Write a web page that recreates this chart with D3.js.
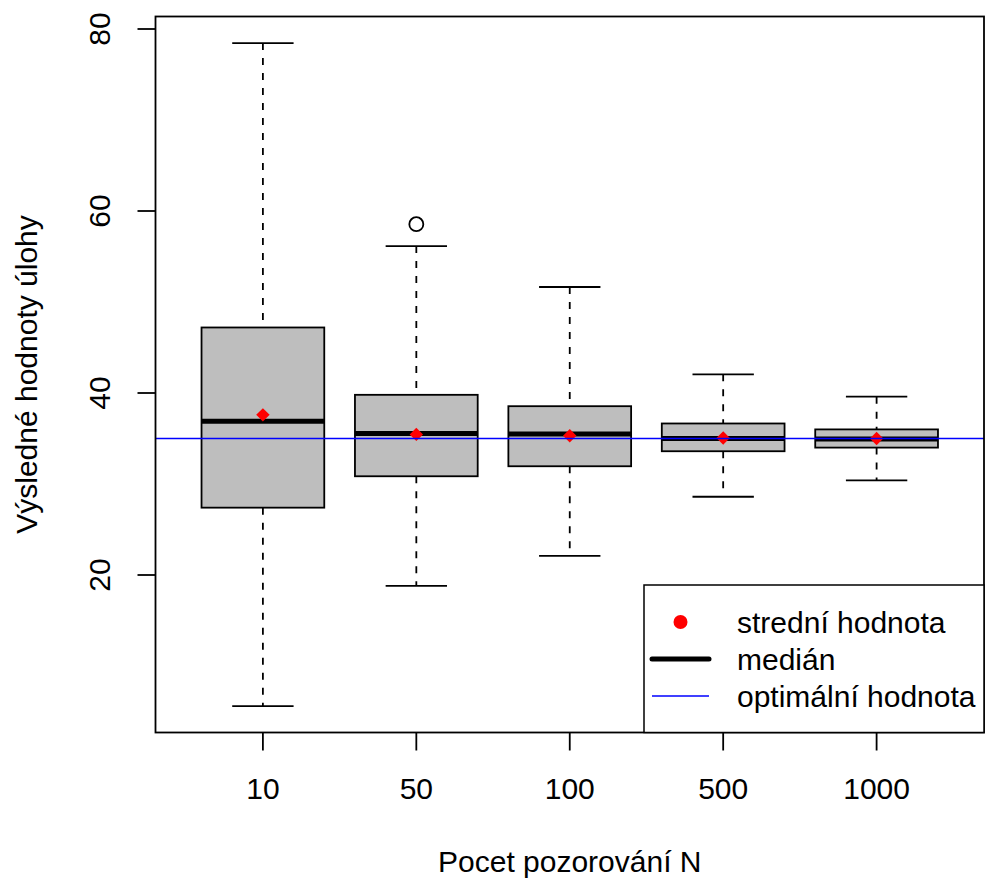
<!DOCTYPE html>
<html>
<head>
<meta charset="utf-8">
<script src="https://cdn.jsdelivr.net/npm/d3@7"></script>
<style>
  body { margin: 0; background: #fff; }
  text { font-family: "Liberation Sans", Arial, Helvetica, sans-serif; fill: #000; }
</style>
</head>
<body>
<div id="chart"></div>
<script>
// data
var categories = ['10', '50', '100', '500', '1000'];
var whiskerLow = [5.6, 18.8, 22.1, 28.6, 30.4];
var q1 = [27.4, 30.85, 31.95, 33.6, 34.0];
var medians = [36.9, 35.55, 35.5, 35.0, 34.95];
var q3 = [47.2, 39.8, 38.55, 36.65, 36.0];
var whiskerHigh = [78.45, 56.15, 51.65, 42.05, 39.6];
var means = [37.6, 35.45, 35.3, 35.05, 35.0];
var outliers = [[], [58.55], [], [], []];
var optimum = 35.0;
var yTicks = [20, 40, 60, 80];
var legendLabels = ['stredn\u00ed hodnota', 'medi\u00e1n', 'optim\u00e1ln\u00ed hodnota'];

var width = 987, height = 884;
var plot = { left: 155.5, right: 984, top: 16.5, bottom: 732.5 };
var fontSize = 30;

var svg = d3.select('#chart').append('svg')
    .attr('width', width)
    .attr('height', height);

var x = d3.scaleLinear().domain([0.3, 5.7]).range([plot.left, plot.right]);
var y = d3.scaleLinear().domain([20, 80]).range([575, 29]);
var step = x(2) - x(1);

var boxes = categories.map(function(c, i){
    return { cat: c, pos: i + 1, lo: whiskerLow[i], q1: q1[i], med: medians[i],
             q3: q3[i], hi: whiskerHigh[i], mean: means[i], out: outliers[i] };
});

svg.append('clipPath').attr('id', 'plotClip')
    .append('rect')
    .attr('x', plot.left).attr('y', plot.top)
    .attr('width', plot.right - plot.left)
    .attr('height', plot.bottom - plot.top);

var g = svg.append('g').attr('clip-path', 'url(#plotClip)');

var bg = g.selectAll('.box').data(boxes).enter().append('g').attr('class', 'box');

// whiskers (dashed)
bg.append('line')
    .attr('x1', function(d){ return x(d.pos); }).attr('x2', function(d){ return x(d.pos); })
    .attr('y1', function(d){ return y(d.hi); }).attr('y2', function(d){ return y(d.q3); })
    .attr('stroke', '#000').attr('stroke-width', 1.8).attr('stroke-dasharray', '7,8');
bg.append('line')
    .attr('x1', function(d){ return x(d.pos); }).attr('x2', function(d){ return x(d.pos); })
    .attr('y1', function(d){ return y(d.q1); }).attr('y2', function(d){ return y(d.lo); })
    .attr('stroke', '#000').attr('stroke-width', 1.8).attr('stroke-dasharray', '7,8');

// staples
['hi', 'lo'].forEach(function(k){
    bg.append('line')
        .attr('x1', function(d){ return x(d.pos - 0.2); })
        .attr('x2', function(d){ return x(d.pos + 0.2); })
        .attr('y1', function(d){ return y(d[k]); })
        .attr('y2', function(d){ return y(d[k]); })
        .attr('stroke', '#000').attr('stroke-width', 1.8);
});

// boxes
bg.append('rect')
    .attr('x', function(d){ return x(d.pos - 0.4); })
    .attr('width', 0.8 * step)
    .attr('y', function(d){ return y(d.q3); })
    .attr('height', function(d){ return y(d.q1) - y(d.q3); })
    .attr('fill', '#bebebe').attr('stroke', '#000').attr('stroke-width', 1.8);

// medians
bg.append('line')
    .attr('x1', function(d){ return x(d.pos - 0.4); })
    .attr('x2', function(d){ return x(d.pos + 0.4); })
    .attr('y1', function(d){ return y(d.med); })
    .attr('y2', function(d){ return y(d.med); })
    .attr('stroke', '#000').attr('stroke-width', 5);

// outliers
bg.each(function(d){
    d3.select(this).selectAll('circle.out').data(d.out).enter().append('circle')
        .attr('class', 'out')
        .attr('cx', x(d.pos)).attr('cy', function(v){ return y(v); })
        .attr('r', 7).attr('fill', 'none').attr('stroke', '#000').attr('stroke-width', 1.8);
});

// optimal value line
g.append('line')
    .attr('x1', plot.left).attr('x2', plot.right)
    .attr('y1', y(optimum)).attr('y2', y(optimum))
    .attr('stroke', '#0000ff').attr('stroke-width', 1.5);

// means (filled diamonds)
var diamond = d3.symbol().type(d3.symbolSquare).size(90);
bg.append('path')
    .attr('d', diamond)
    .attr('transform', function(d){ return 'translate(' + x(d.pos) + ',' + y(d.mean) + ') rotate(45)'; })
    .attr('fill', '#ff0000');

// frame
svg.append('rect')
    .attr('x', plot.left).attr('y', plot.top)
    .attr('width', plot.right - plot.left)
    .attr('height', plot.bottom - plot.top)
    .attr('fill', 'none').attr('stroke', '#000').attr('stroke-width', 1.8);

// y axis
var yAxis = svg.append('g');
yAxis.selectAll('line').data(yTicks).enter().append('line')
    .attr('x1', plot.left - 18).attr('x2', plot.left)
    .attr('y1', function(d){ return y(d); }).attr('y2', function(d){ return y(d); })
    .attr('stroke', '#000').attr('stroke-width', 1.8);
yAxis.selectAll('text').data(yTicks).enter().append('text')
    .attr('transform', function(d){ return 'translate(110,' + y(d) + ') rotate(-90)'; })
    .attr('text-anchor', 'middle')
    .style('font-size', fontSize + 'px')
    .text(function(d){ return d; });

// x axis
var xAxis = svg.append('g');
xAxis.selectAll('line').data(boxes).enter().append('line')
    .attr('x1', function(d){ return x(d.pos); }).attr('x2', function(d){ return x(d.pos); })
    .attr('y1', plot.bottom).attr('y2', plot.bottom + 18)
    .attr('stroke', '#000').attr('stroke-width', 1.8);
xAxis.selectAll('text').data(boxes).enter().append('text')
    .attr('x', function(d){ return x(d.pos); }).attr('y', 799)
    .attr('text-anchor', 'middle')
    .style('font-size', fontSize + 'px')
    .text(function(d){ return d.cat; });

// axis titles
svg.append('text')
    .attr('x', (plot.left + plot.right) / 2).attr('y', 872)
    .attr('text-anchor', 'middle')
    .style('font-size', fontSize + 'px')
    .text('Pocet pozorov\u00e1n\u00ed N');
svg.append('text')
    .attr('transform', 'translate(37,' + (plot.top + plot.bottom) / 2 + ') rotate(-90)')
    .attr('text-anchor', 'middle')
    .style('font-size', fontSize + 'px')
    .text('V\u00fdsledn\u00e9 hodnoty \u00falohy');

// legend
var legend = svg.append('g');
legend.append('rect')
    .attr('x', 644).attr('y', 585)
    .attr('width', plot.right - 644).attr('height', plot.bottom - 585)
    .attr('fill', '#fff').attr('stroke', '#000').attr('stroke-width', 1.5);
var rowY = [622, 659, 696];
legend.append('circle').attr('cx', 680.5).attr('cy', rowY[0]).attr('r', 7).attr('fill', '#ff0000');
legend.append('line').attr('x1', 652).attr('x2', 709).attr('y1', rowY[1]).attr('y2', rowY[1])
    .attr('stroke', '#000').attr('stroke-width', 5).attr('stroke-linecap', 'round');
legend.append('line').attr('x1', 652).attr('x2', 709).attr('y1', rowY[2]).attr('y2', rowY[2])
    .attr('stroke', '#0000ff').attr('stroke-width', 1.5);
legend.selectAll('text.lab').data(legendLabels).enter().append('text')
    .attr('class', 'lab')
    .attr('x', 737).attr('y', function(d, i){ return rowY[i]; })
    .attr('dy', '0.35em')
    .style('font-size', fontSize + 'px')
    .text(function(d){ return d; });
</script>
</body>
</html>
